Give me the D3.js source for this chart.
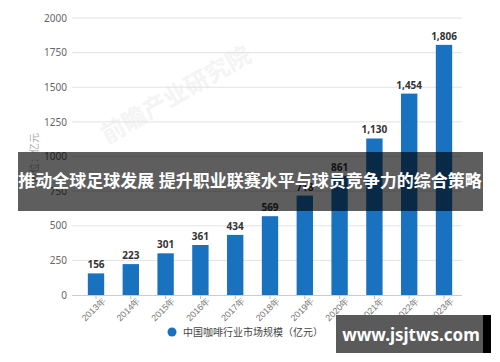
<!DOCTYPE html>
<html><head><meta charset="utf-8">
<script src="https://cdn.jsdelivr.net/npm/d3@7"></script>
<style>body{margin:0;background:#fff;}svg{display:block;font-family:"Noto Sans","Noto Sans CJK SC",sans-serif;}</style>
</head><body>
<svg id="c" width="500" height="362"></svg>
<script>
const years = ["2013年","2014年","2015年","2016年","2017年","2018年","2019年","2020年","2021年","2022年","2023年"];
const values = [156,223,301,361,434,569,718,861,1130,1454,1806];
const yTicks = [0,250,500,750,1000,1250,1500,1750,2000];
const seriesName = "中国咖啡行业市场规模（亿元）";
const yTitle = "单位：亿元";
const bannerText = "推动全球足球发展 提升职业联赛水平与球员竞争力的综合策略";
const siteText = "www.jsjtws.com";
const watermark = "前瞻产业研究院";

const svg = d3.select("#c");
const x = d3.scaleBand().domain(years).range([78.6,461.4]).paddingInner(0.53).paddingOuter(0.265);
const y = d3.scaleLinear().domain([0,2000]).range([295,18]);
const blue = "#1872bf";

// faint watermark
svg.append("text").attr("transform","translate(180,102) rotate(-30)")
  .attr("text-anchor","middle").attr("font-size",24).attr("font-weight","bold")
  .attr("fill","#f4f4f4").text(watermark);

// grid
svg.append("g").selectAll("line").data(yTicks.filter(d=>d>0)).join("line")
  .attr("x1",72).attr("x2",462).attr("y1",d=>y(d)).attr("y2",d=>y(d))
  .attr("stroke","#e3e3e3").attr("stroke-width",1);

// y axis labels
const ya = svg.append("g").attr("transform","translate(67,0)")
  .call(d3.axisLeft(y).tickValues(yTicks).tickFormat(d3.format("d")).tickSize(0).tickPadding(0));
ya.select(".domain").remove();
ya.selectAll("text").attr("font-size",10).attr("fill","#666").attr("font-family","Noto Sans, sans-serif");

// y title
svg.append("text").attr("transform","translate(38,158) rotate(-90)")
  .attr("text-anchor","middle").attr("font-size",10).attr("fill","#aaa").text(yTitle);

// bars
svg.append("g").selectAll("rect").data(values).join("rect")
  .attr("x",(d,i)=>x(years[i])).attr("width",x.bandwidth())
  .attr("y",d=>y(d)).attr("height",d=>y(0)-y(d)).attr("fill",blue);

// value labels
svg.append("g").selectAll("text").data(values).join("text")
  .attr("x",(d,i)=>x(years[i])+x.bandwidth()/2).attr("y",d=>y(d)-5)
  .attr("text-anchor","middle").attr("font-size",10).attr("font-weight","bold")
  .attr("fill","#333").text(d=>d3.format(",")(d));

// x axis
const xa = svg.append("g").attr("transform","translate(0,295)")
  .call(d3.axisBottom(x).tickSize(4).tickSizeOuter(0));
xa.select(".domain").attr("d","M72,0.5H462").attr("stroke","#ccc");
xa.selectAll(".tick line").attr("stroke","#bbb");
xa.selectAll("text").attr("font-size",9).attr("fill","#777")
  .attr("text-anchor","end").attr("dx","0.3em").attr("dy","0.5em")
  .attr("transform","rotate(-45)");

// legend
svg.append("circle").attr("cx",172).attr("cy",332).attr("r",4.5).attr("fill",blue);
svg.append("text").attr("x",183).attr("y",336).attr("font-size",10).attr("fill","#444").text(seriesName);

// banner overlay
svg.append("rect").attr("x",18).attr("y",152).attr("width",465).attr("height",59)
  .attr("fill","#000").attr("fill-opacity",0.63);
svg.append("text").attr("x",250).attr("y",187).attr("text-anchor","middle")
  .attr("font-size",17).attr("font-weight","bold").attr("fill","#fff").text(bannerText);

// site watermark
svg.append("rect").attr("x",336).attr("y",315).attr("width",148).attr("height",38).attr("fill","#5a5a5a");
svg.append("rect").attr("x",483).attr("y",315).attr("width",8).attr("height",38).attr("fill","#000");
svg.append("text").attr("x",411).attr("y",341).attr("text-anchor","middle")
  .attr("font-size",17).attr("font-weight","bold").attr("fill","#fff").text(siteText);
</script>
</body></html>
